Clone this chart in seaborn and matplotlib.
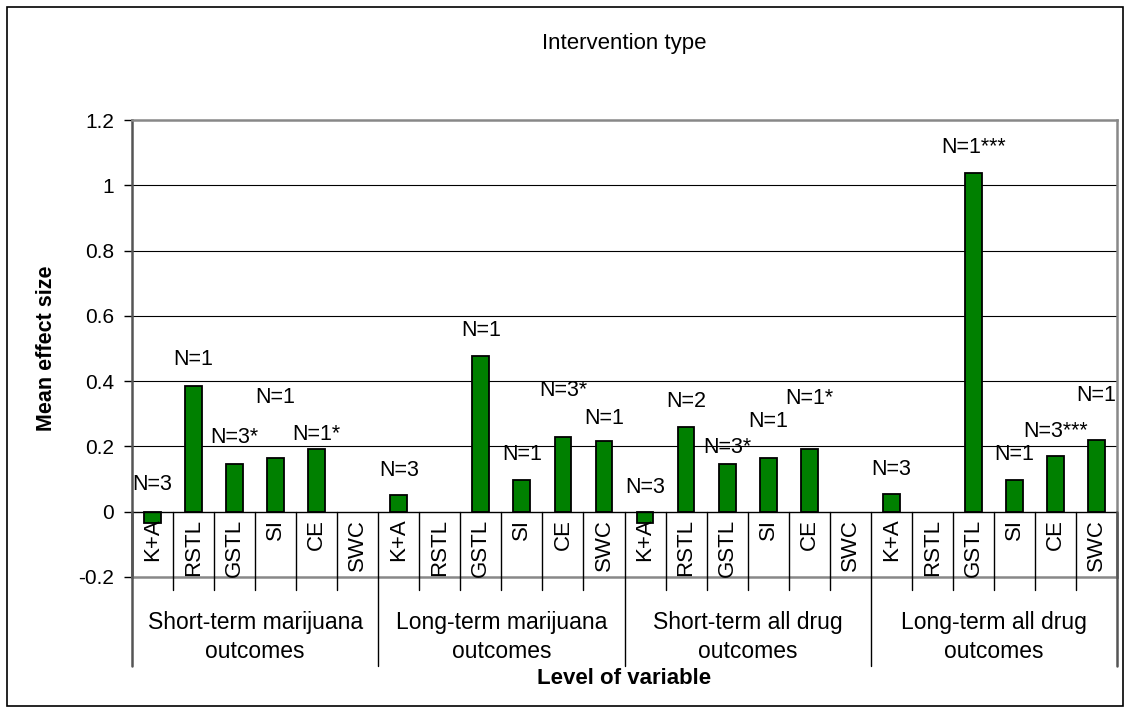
import numpy as np
import pandas as pd
import matplotlib
matplotlib.use("Agg")
import matplotlib.pyplot as plt
import matplotlib.patches as patches
import seaborn as sns

# data
groups = ["Short-term marijuana\noutcomes", "Long-term marijuana\noutcomes",
          "Short-term all drug\noutcomes", "Long-term all drug\noutcomes"]
types = ["K+A", "RSTL", "GSTL", "SI", "CE", "SWC"]

st_mj = [-0.035, 0.386, 0.147, 0.165, 0.193, np.nan]
lt_mj = [0.051, np.nan, 0.476, 0.097, 0.229, 0.218]
st_all = [-0.036, 0.259, 0.147, 0.165, 0.193, np.nan]
lt_all = [0.055, np.nan, 1.037, 0.098, 0.170, 0.219]

st_mj_n = ["N=3", "N=1", "N=3*", "N=1", "N=1*", ""]
lt_mj_n = ["N=3", "", "N=1", "N=1", "N=3*", "N=1"]
st_all_n = ["N=3", "N=2", "N=3*", "N=1", "N=1*", ""]
lt_all_n = ["N=3", "", "N=1***", "N=1", "N=3***", "N=1"]

# where the data labels sit (they were moved by hand in the original)
st_mj_ly = [0.084, 0.466, 0.226, 0.350, 0.236, np.nan]
lt_mj_ly = [0.127, np.nan, 0.554, 0.175, 0.371, 0.287]
st_all_ly = [0.073, 0.338, 0.196, 0.275, 0.346, np.nan]
lt_all_ly = [0.129, np.nan, 1.117, 0.175, 0.247, 0.355]

values = st_mj + lt_mj + st_all + lt_all
nlabels = st_mj_n + lt_mj_n + st_all_n + lt_all_n
label_y = st_mj_ly + lt_mj_ly + st_all_ly + lt_all_ly

df = pd.DataFrame({"slot": range(len(values)), "value": values,
                   "type": types * len(groups)})

sns.set_style("white")
plt.rcParams["font.family"] = ["Liberation Sans", "DejaVu Sans"]
plt.rcParams["text.color"] = "black"
plt.rcParams["ytick.color"] = "black"
plt.rcParams["ytick.labelcolor"] = "black"

fig = plt.figure(figsize=(11.3, 7.13), dpi=100)
ax = fig.add_axes([132 / 1130, 1 - 577 / 713, (1117 - 132) / 1130, (577 - 120) / 713])

sns.barplot(data=df.dropna(), x="slot", y="value", order=list(range(len(values))),
            color="#008000", saturation=1, width=0.41, edgecolor="black",
            linewidth=1.3, ax=ax, zorder=3)

ax.set_xlim(-0.5, len(values) - 0.5)
ax.set_ylim(-0.2, 1.2)
yt = [-0.2, 0, 0.2, 0.4, 0.6, 0.8, 1, 1.2]
ax.set_yticks(yt)
ax.set_yticklabels(["-0.2", "0", "0.2", "0.4", "0.6", "0.8", "1", "1.2"], fontsize=15)
ax.tick_params(axis="y", direction="out", length=6, width=1, color="black", pad=7, left=True)
ax.set_xticks([])
ax.set_xlabel("")
ax.set_ylabel("")

for yv in [0.2, 0.4, 0.6, 0.8, 1.0]:
    ax.axhline(yv, color="black", lw=0.8, zorder=1)
ax.axhline(0, color="black", lw=1.0, zorder=4)

for s in ["top", "right", "bottom"]:
    ax.spines[s].set_color("#888888")
    ax.spines[s].set_linewidth(1.8)
ax.spines["left"].set_color("#555555")
ax.spines["left"].set_linewidth(1.8)

# data labels
for i, (t, ly) in enumerate(zip(nlabels, label_y)):
    if t:
        ax.text(i, ly, t, ha="center", va="center", fontsize=15.5, zorder=5, clip_on=False)

# category labels and separators
for i, t in enumerate(types * len(groups)):
    ax.annotate(t, xy=(i, 0), xytext=(0, -5), textcoords="offset points",
                ha="center", va="top", rotation=90, fontsize=16, annotation_clip=False)
for k in range(len(values) + 1):
    bottom = -0.472 if k % len(types) == 0 else -0.239
    col = "#555555" if k in (0, len(values)) else "black"
    ax.plot([k - 0.5, k - 0.5], [0, bottom], color=col, lw=1.0 if 0 < k < len(values) else 1.8,
            clip_on=False, zorder=4)

for g, name in enumerate(groups):
    ax.text(g * len(types) + 2.5, -0.384, name, ha="center", va="center",
            fontsize=16.5, linespacing=1.3, clip_on=False)

fig.text(624 / 1130, 1 - 679 / 713, "Level of variable", ha="center", va="center",
         fontsize=16, fontweight="bold")
fig.text(47 / 1130, 1 - 348 / 713, "Mean effect size", ha="center", va="center",
         rotation=90, fontsize=15.5, fontweight="bold")
fig.text(624 / 1130, 1 - 43 / 713, "Intervention type", ha="center", va="center",
         fontsize=16)

fig.patches.append(patches.Rectangle((7 / 1130, 7 / 713), 1116 / 1130, 699 / 713,
                                     transform=fig.transFigure, fill=False,
                                     edgecolor="black", lw=1.2))

fig.savefig("out.png", dpi=100, facecolor="white")
